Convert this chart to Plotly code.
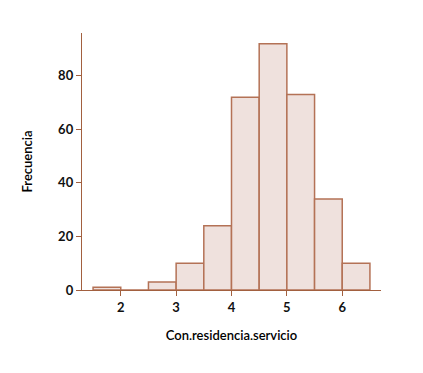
import plotly.graph_objects as go

bin_edges = [1.5, 2.0, 2.5, 3.0, 3.5, 4.0, 4.5, 5.0, 5.5, 6.0, 6.5]
counts = [1, 0, 3, 10, 24, 72, 92, 73, 34, 10]
x_ticks = [2, 3, 4, 5, 6]
y_ticks = [0, 20, 40, 60, 80]

centers = [(a + b) / 2 for a, b in zip(bin_edges[:-1], bin_edges[1:])]
widths = [b - a for a, b in zip(bin_edges[:-1], bin_edges[1:])]

axis_col = "#A2603F"
fig = go.Figure(go.Bar(
    x=centers, y=counts, width=widths,
    marker=dict(color="#EFE1DD", line=dict(color="#B47256", width=1.5)),
))
tick_font = dict(family="Lato, Open Sans, sans-serif", size=13, color="#111111", weight="bold")
title_font = dict(family="Lato, Open Sans, sans-serif", size=13, color="#000000", weight=600)
fig.update_layout(
    width=423, height=373,
    margin=dict(l=74, r=50, t=25, b=91),
    plot_bgcolor="white", paper_bgcolor="white",
    showlegend=False,
    xaxis=dict(range=[1.3, 6.7], tickvals=x_ticks, ticks="outside", ticklen=5,
               tickcolor=axis_col, showline=True, linecolor=axis_col, linewidth=1.4,
               showgrid=False, zeroline=False, tickfont=tick_font,
               title=dict(text="Con.residencia.servicio", standoff=17, font=title_font)),
    yaxis=dict(range=[0, 96], tickvals=y_ticks, ticks="outside", ticklen=5,
               tickcolor=axis_col, showline=True, linecolor=axis_col, linewidth=1.4,
               showgrid=False, zeroline=False, tickfont=tick_font,
               title=dict(text="Frecuencia", standoff=22, font=title_font)),
)
fig.write_html("out.html")
